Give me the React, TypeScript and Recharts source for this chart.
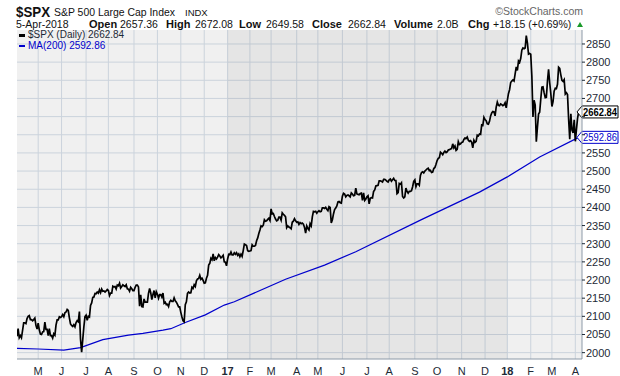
import React from 'react';
import {
  ComposedChart,
  Line,
  XAxis,
  YAxis,
  CartesianGrid,
  ReferenceArea,
  ReferenceLine,
  Legend,
} from 'recharts';

// ---------- DATA ----------
const prices2016: [string, number][] = [
  ['2016-04-05', 2045], ['2016-04-06', 2066], ['2016-04-07', 2041], ['2016-04-08', 2047], ['2016-04-11', 2041],
  ['2016-04-12', 2061], ['2016-04-13', 2082], ['2016-04-14', 2082], ['2016-04-15', 2080], ['2016-04-18', 2094],
  ['2016-04-19', 2100], ['2016-04-20', 2102], ['2016-04-21', 2091], ['2016-04-22', 2091], ['2016-04-25', 2088],
  ['2016-04-26', 2091], ['2016-04-27', 2095], ['2016-04-28', 2075], ['2016-04-29', 2065], ['2016-05-02', 2081],
  ['2016-05-03', 2063], ['2016-05-04', 2051], ['2016-05-05', 2050], ['2016-05-06', 2057], ['2016-05-09', 2058],
  ['2016-05-10', 2084], ['2016-05-11', 2064], ['2016-05-12', 2064], ['2016-05-13', 2047], ['2016-05-16', 2066],
  ['2016-05-17', 2047], ['2016-05-18', 2047], ['2016-05-19', 2040], ['2016-05-20', 2052], ['2016-05-23', 2048],
  ['2016-05-24', 2076], ['2016-05-25', 2090], ['2016-05-26', 2090], ['2016-05-27', 2099], ['2016-05-31', 2097],
  ['2016-06-01', 2099], ['2016-06-02', 2105], ['2016-06-03', 2099], ['2016-06-06', 2110], ['2016-06-07', 2112],
  ['2016-06-08', 2119], ['2016-06-09', 2116], ['2016-06-10', 2096], ['2016-06-13', 2079], ['2016-06-14', 2075],
  ['2016-06-15', 2072], ['2016-06-16', 2077], ['2016-06-17', 2071], ['2016-06-20', 2083], ['2016-06-21', 2088],
  ['2016-06-22', 2085], ['2016-06-23', 2113], ['2016-06-24', 2037], ['2016-06-27', 2001], ['2016-06-28', 2036],
  ['2016-06-29', 2071], ['2016-06-30', 2099], ['2016-07-01', 2103], ['2016-07-05', 2089], ['2016-07-06', 2100],
  ['2016-07-07', 2098], ['2016-07-08', 2130], ['2016-07-11', 2137], ['2016-07-12', 2152], ['2016-07-13', 2153],
  ['2016-07-14', 2163], ['2016-07-15', 2162], ['2016-07-18', 2167], ['2016-07-19', 2164], ['2016-07-20', 2173],
  ['2016-07-21', 2165], ['2016-07-22', 2175], ['2016-07-25', 2169], ['2016-07-26', 2170], ['2016-07-27', 2167],
  ['2016-07-28', 2170], ['2016-07-29', 2174], ['2016-08-01', 2171], ['2016-08-02', 2157], ['2016-08-03', 2164],
  ['2016-08-04', 2164], ['2016-08-05', 2183], ['2016-08-08', 2181], ['2016-08-09', 2182], ['2016-08-10', 2175],
  ['2016-08-11', 2186], ['2016-08-12', 2184], ['2016-08-15', 2191], ['2016-08-16', 2178], ['2016-08-17', 2182],
  ['2016-08-18', 2187], ['2016-08-19', 2184], ['2016-08-22', 2182], ['2016-08-23', 2187], ['2016-08-24', 2176],
  ['2016-08-25', 2175], ['2016-08-26', 2169], ['2016-08-29', 2180], ['2016-08-30', 2176], ['2016-08-31', 2171],
  ['2016-09-01', 2171], ['2016-09-02', 2180], ['2016-09-06', 2186], ['2016-09-07', 2186], ['2016-09-08', 2181],
  ['2016-09-09', 2128], ['2016-09-12', 2159], ['2016-09-13', 2127], ['2016-09-14', 2126], ['2016-09-15', 2148],
  ['2016-09-16', 2139], ['2016-09-19', 2139], ['2016-09-20', 2139], ['2016-09-21', 2163], ['2016-09-22', 2177],
  ['2016-09-23', 2165], ['2016-09-26', 2146], ['2016-09-27', 2160], ['2016-09-28', 2171], ['2016-09-29', 2151],
  ['2016-09-30', 2168], ['2016-10-03', 2161], ['2016-10-04', 2150], ['2016-10-05', 2160], ['2016-10-06', 2160],
  ['2016-10-07', 2153], ['2016-10-10', 2164], ['2016-10-11', 2136], ['2016-10-12', 2139], ['2016-10-13', 2132],
  ['2016-10-14', 2133], ['2016-10-17', 2127], ['2016-10-18', 2140], ['2016-10-19', 2144], ['2016-10-20', 2141],
  ['2016-10-21', 2141], ['2016-10-24', 2151], ['2016-10-25', 2143], ['2016-10-26', 2139], ['2016-10-27', 2133],
  ['2016-10-28', 2126], ['2016-10-31', 2126], ['2016-11-01', 2111], ['2016-11-02', 2098], ['2016-11-03', 2088],
  ['2016-11-04', 2085], ['2016-11-07', 2132], ['2016-11-08', 2140], ['2016-11-09', 2163], ['2016-11-10', 2167],
  ['2016-11-11', 2164], ['2016-11-14', 2165], ['2016-11-15', 2180], ['2016-11-16', 2177], ['2016-11-17', 2187],
  ['2016-11-18', 2182], ['2016-11-21', 2198], ['2016-11-22', 2203], ['2016-11-23', 2204], ['2016-11-25', 2213],
  ['2016-11-28', 2202], ['2016-11-29', 2205], ['2016-11-30', 2199], ['2016-12-01', 2191], ['2016-12-02', 2192],
  ['2016-12-05', 2205], ['2016-12-06', 2213], ['2016-12-07', 2241], ['2016-12-08', 2246], ['2016-12-09', 2260],
  ['2016-12-12', 2256], ['2016-12-13', 2272], ['2016-12-14', 2253], ['2016-12-15', 2262], ['2016-12-16', 2258],
  ['2016-12-19', 2263], ['2016-12-20', 2270], ['2016-12-21', 2266], ['2016-12-22', 2261], ['2016-12-23', 2264],
  ['2016-12-27', 2268], ['2016-12-28', 2250], ['2016-12-29', 2249], ['2016-12-30', 2239],
];

const prices2017: [string, number][] = [
  ['2017-01-03', 2258], ['2017-01-04', 2271], ['2017-01-05', 2270], ['2017-01-06', 2277], ['2017-01-09', 2269],
  ['2017-01-10', 2269], ['2017-01-11', 2275], ['2017-01-12', 2271], ['2017-01-13', 2275], ['2017-01-17', 2268],
  ['2017-01-18', 2272], ['2017-01-19', 2264], ['2017-01-20', 2271], ['2017-01-23', 2265], ['2017-01-24', 2281],
  ['2017-01-25', 2299], ['2017-01-26', 2297], ['2017-01-27', 2295], ['2017-01-30', 2281], ['2017-01-31', 2279],
  ['2017-02-01', 2280], ['2017-02-02', 2281], ['2017-02-03', 2297], ['2017-02-06', 2293], ['2017-02-07', 2293],
  ['2017-02-08', 2295], ['2017-02-09', 2308], ['2017-02-10', 2316], ['2017-02-13', 2328], ['2017-02-14', 2338],
  ['2017-02-15', 2349], ['2017-02-16', 2347], ['2017-02-17', 2351], ['2017-02-21', 2366], ['2017-02-22', 2362],
  ['2017-02-23', 2363], ['2017-02-24', 2367], ['2017-02-27', 2370], ['2017-02-28', 2364], ['2017-03-01', 2396],
  ['2017-03-02', 2382], ['2017-03-03', 2383], ['2017-03-06', 2375], ['2017-03-07', 2368], ['2017-03-08', 2363],
  ['2017-03-09', 2365], ['2017-03-10', 2373], ['2017-03-13', 2373], ['2017-03-14', 2365], ['2017-03-15', 2385],
  ['2017-03-16', 2381], ['2017-03-17', 2378], ['2017-03-20', 2374], ['2017-03-21', 2344], ['2017-03-22', 2349],
  ['2017-03-23', 2346], ['2017-03-24', 2344], ['2017-03-27', 2341], ['2017-03-28', 2359], ['2017-03-29', 2362],
  ['2017-03-30', 2369], ['2017-03-31', 2363], ['2017-04-03', 2359], ['2017-04-04', 2360], ['2017-04-05', 2353],
  ['2017-04-06', 2358], ['2017-04-07', 2355], ['2017-04-10', 2357], ['2017-04-11', 2354], ['2017-04-12', 2345],
  ['2017-04-13', 2329], ['2017-04-17', 2349], ['2017-04-18', 2342], ['2017-04-19', 2338], ['2017-04-20', 2355],
  ['2017-04-21', 2349], ['2017-04-24', 2374], ['2017-04-25', 2389], ['2017-04-26', 2388], ['2017-04-27', 2389],
  ['2017-04-28', 2384], ['2017-05-01', 2388], ['2017-05-02', 2391], ['2017-05-03', 2388], ['2017-05-04', 2389],
  ['2017-05-05', 2399], ['2017-05-08', 2399], ['2017-05-09', 2397], ['2017-05-10', 2400], ['2017-05-11', 2395],
  ['2017-05-12', 2391], ['2017-05-15', 2402], ['2017-05-16', 2400], ['2017-05-17', 2357], ['2017-05-18', 2366],
  ['2017-05-19', 2382], ['2017-05-22', 2394], ['2017-05-23', 2398], ['2017-05-24', 2404], ['2017-05-25', 2415],
  ['2017-05-26', 2416], ['2017-05-30', 2413], ['2017-05-31', 2412], ['2017-06-01', 2431], ['2017-06-02', 2439],
  ['2017-06-05', 2437], ['2017-06-06', 2429], ['2017-06-07', 2433], ['2017-06-08', 2434], ['2017-06-09', 2432],
  ['2017-06-12', 2429], ['2017-06-13', 2440], ['2017-06-14', 2437], ['2017-06-15', 2432], ['2017-06-16', 2433],
  ['2017-06-19', 2453], ['2017-06-20', 2437], ['2017-06-21', 2436], ['2017-06-22', 2435], ['2017-06-23', 2438],
  ['2017-06-26', 2439], ['2017-06-27', 2419], ['2017-06-28', 2440], ['2017-06-29', 2419], ['2017-06-30', 2423],
  ['2017-07-03', 2429], ['2017-07-05', 2432], ['2017-07-06', 2410], ['2017-07-07', 2425], ['2017-07-10', 2427],
  ['2017-07-11', 2426], ['2017-07-12', 2444], ['2017-07-13', 2448], ['2017-07-14', 2459], ['2017-07-17', 2460],
  ['2017-07-18', 2461], ['2017-07-19', 2473], ['2017-07-20', 2473], ['2017-07-21', 2472], ['2017-07-24', 2470],
  ['2017-07-25', 2477], ['2017-07-26', 2477], ['2017-07-27', 2475], ['2017-07-28', 2472], ['2017-07-31', 2470],
  ['2017-08-01', 2476], ['2017-08-02', 2478], ['2017-08-03', 2472], ['2017-08-04', 2476], ['2017-08-07', 2480],
  ['2017-08-08', 2474], ['2017-08-09', 2474], ['2017-08-10', 2438], ['2017-08-11', 2441], ['2017-08-14', 2466],
  ['2017-08-15', 2464], ['2017-08-16', 2468], ['2017-08-17', 2430], ['2017-08-18', 2426], ['2017-08-21', 2429],
  ['2017-08-22', 2453], ['2017-08-23', 2444], ['2017-08-24', 2439], ['2017-08-25', 2444], ['2017-08-28', 2444],
  ['2017-08-29', 2446], ['2017-08-30', 2457], ['2017-08-31', 2472], ['2017-09-01', 2476], ['2017-09-05', 2457],
  ['2017-09-06', 2465], ['2017-09-07', 2465], ['2017-09-08', 2461], ['2017-09-11', 2488], ['2017-09-12', 2496],
  ['2017-09-13', 2498], ['2017-09-14', 2495], ['2017-09-15', 2500], ['2017-09-18', 2503], ['2017-09-19', 2506],
  ['2017-09-20', 2508], ['2017-09-21', 2501], ['2017-09-22', 2502], ['2017-09-25', 2496], ['2017-09-26', 2497],
  ['2017-09-27', 2507], ['2017-09-28', 2510], ['2017-09-29', 2519], ['2017-10-02', 2529], ['2017-10-03', 2535],
  ['2017-10-04', 2537], ['2017-10-05', 2552], ['2017-10-06', 2549], ['2017-10-09', 2545], ['2017-10-10', 2551],
  ['2017-10-11', 2555], ['2017-10-12', 2551], ['2017-10-13', 2553], ['2017-10-16', 2558], ['2017-10-17', 2559],
  ['2017-10-18', 2561], ['2017-10-19', 2562], ['2017-10-20', 2575], ['2017-10-23', 2564], ['2017-10-24', 2569],
  ['2017-10-25', 2557], ['2017-10-26', 2560], ['2017-10-27', 2581], ['2017-10-30', 2573], ['2017-10-31', 2575],
  ['2017-11-01', 2579], ['2017-11-02', 2580], ['2017-11-03', 2587], ['2017-11-06', 2591], ['2017-11-07', 2590],
  ['2017-11-08', 2594], ['2017-11-09', 2585], ['2017-11-10', 2582], ['2017-11-13', 2584], ['2017-11-14', 2579],
  ['2017-11-15', 2564], ['2017-11-16', 2585], ['2017-11-17', 2579], ['2017-11-20', 2582], ['2017-11-21', 2599],
  ['2017-11-22', 2597], ['2017-11-24', 2602], ['2017-11-27', 2601], ['2017-11-28', 2627], ['2017-11-29', 2626],
  ['2017-11-30', 2648], ['2017-12-01', 2642], ['2017-12-04', 2639], ['2017-12-05', 2630], ['2017-12-06', 2629],
  ['2017-12-07', 2637], ['2017-12-08', 2652], ['2017-12-11', 2660], ['2017-12-12', 2664], ['2017-12-13', 2663],
  ['2017-12-14', 2652], ['2017-12-15', 2676], ['2017-12-18', 2690], ['2017-12-19', 2681], ['2017-12-20', 2680],
  ['2017-12-21', 2685], ['2017-12-22', 2683], ['2017-12-26', 2680], ['2017-12-27', 2682], ['2017-12-28', 2688],
  ['2017-12-29', 2674],
];

const prices2018: [string, number][] = [
  ['2018-01-02', 2695], ['2018-01-03', 2713], ['2018-01-04', 2724], ['2018-01-05', 2744], ['2018-01-08', 2748],
  ['2018-01-09', 2751], ['2018-01-10', 2748], ['2018-01-11', 2768], ['2018-01-12', 2787], ['2018-01-16', 2777],
  ['2018-01-17', 2803], ['2018-01-18', 2799], ['2018-01-19', 2810], ['2018-01-22', 2833], ['2018-01-23', 2839],
  ['2018-01-24', 2837], ['2018-01-25', 2839], ['2018-01-26', 2873], ['2018-01-29', 2853], ['2018-01-30', 2822],
  ['2018-01-31', 2824], ['2018-02-01', 2822], ['2018-02-02', 2762], ['2018-02-05', 2649], ['2018-02-06', 2695],
  ['2018-02-07', 2682], ['2018-02-08', 2581], ['2018-02-09', 2620], ['2018-02-12', 2657], ['2018-02-13', 2662],
  ['2018-02-14', 2698], ['2018-02-15', 2731], ['2018-02-16', 2732], ['2018-02-20', 2716], ['2018-02-21', 2702],
  ['2018-02-22', 2703], ['2018-02-23', 2747], ['2018-02-26', 2780], ['2018-02-27', 2744], ['2018-02-28', 2714],
  ['2018-03-01', 2678], ['2018-03-02', 2691], ['2018-03-05', 2720], ['2018-03-06', 2728], ['2018-03-07', 2727],
  ['2018-03-08', 2739], ['2018-03-09', 2786], ['2018-03-12', 2783], ['2018-03-13', 2765], ['2018-03-14', 2750],
  ['2018-03-15', 2747], ['2018-03-16', 2752], ['2018-03-19', 2712], ['2018-03-20', 2716], ['2018-03-21', 2711],
  ['2018-03-22', 2643], ['2018-03-23', 2588], ['2018-03-26', 2658], ['2018-03-27', 2613], ['2018-03-28', 2605],
  ['2018-03-29', 2641], ['2018-04-02', 2582], ['2018-04-03', 2614], ['2018-04-04', 2645], ['2018-04-05', 2662.84],
];

const ma200: [string, number][] = [
  ['2016-04-05', 2012], ['2016-05-01', 2010], ['2016-06-03', 2007], ['2016-06-24', 2014], ['2016-07-23', 2036],
  ['2016-08-25', 2048], ['2016-09-14', 2053], ['2016-10-08', 2062], ['2016-10-19', 2066], ['2016-11-06', 2083],
  ['2016-12-02', 2104], ['2016-12-28', 2131], ['2017-01-11', 2140], ['2017-03-20', 2202], ['2017-05-09', 2241],
  ['2017-06-18', 2278], ['2017-09-09', 2365], ['2017-11-23', 2442], ['2018-01-02', 2484], ['2018-02-13', 2539],
  ['2018-04-05', 2592.86],
];

const yTicks = [2000, 2050, 2100, 2150, 2200, 2250, 2300, 2350, 2400, 2450, 2500, 2550, 2600, 2650, 2700, 2750, 2800, 2850];
const monthTicks = [
  '2016-05-01', '2016-06-01', '2016-07-01', '2016-08-01', '2016-09-01', '2016-10-01', '2016-11-01', '2016-12-01',
  '2017-01-01', '2017-02-01', '2017-03-01', '2017-04-01', '2017-05-01', '2017-06-01', '2017-07-01', '2017-08-01',
  '2017-09-01', '2017-10-01', '2017-11-01', '2017-12-01', '2018-01-01', '2018-02-01', '2018-03-01', '2018-04-01',
];
const monthLetters = ['J', 'F', 'M', 'A', 'M', 'J', 'J', 'A', 'S', 'O', 'N', 'D'];
const shadedYear = ['2017-01-01', '2018-01-01'];
const yDomain: [number, number] = [1982.5, 2888.5];
const lastClose = 2662.84;
const lastMA = 2592.86;

const headerValues = {
  date: '5-Apr-2018', open: '2657.36', high: '2672.08', low: '2649.58', close: '2662.84', volume: '2.0B', chg: '+18.15 (+0.69%)',
};

// ---------- HELPERS (trading-day x positions, as StockCharts spaces them) ----------
const allPrices = [...prices2016, ...prices2017, ...prices2018];
const tradeTimes = allPrices.map(([d]) => Date.parse(d));
const dateToX = (d: string) => {
  const t = Date.parse(d);
  return tradeTimes.filter((tt) => tt < t).length;
};
const priceRows = allPrices.map(([, v], i) => ({ x: i, v }));
const maRows = ma200.map(([d, v]) => ({ x: dateToX(d), v }));
const xTicks = monthTicks.map(dateToX);
const tickLabel: Record<number, { text: string; bold: boolean }> = {};
monthTicks.forEach((d, i) => {
  const m = Number(d.slice(5, 7)) - 1;
  tickLabel[xTicks[i]] = m === 0 ? { text: d.slice(2, 4), bold: true } : { text: monthLetters[m], bold: false };
});
const xDomain: [number, number] = [0, priceRows.length - 1 + 3];

const FONT = '"Liberation Sans", Arial, sans-serif';
const GRID = '#cbd3dc';
const BORDER = '#8d9aa8';
const TEXT = '#1e2a36';
const BLUE = '#0000cc';

const XTick = (props: any) => {
  const { x, y, payload } = props;
  const lab = tickLabel[payload.value] || { text: '', bold: false };
  return (
    <text x={x} y={y} dy={8} textAnchor="middle" fontSize={11} fontFamily={FONT}
      fontWeight={lab.bold ? 'bold' : 'normal'} fill={TEXT}>
      {lab.text}
    </text>
  );
};

// tick labels sitting under the last-value tags are covered by the tags in the original
const YTick = (props: any) => {
  const { x, y, payload } = props;
  const v = payload.value;
  const covered = Math.abs(v - lastClose) < 15 || Math.abs(v - lastMA) < 15;
  if (covered) return null;
  return (
    <text x={x} y={y} dy="0.36em" textAnchor="start" fontSize={11} fontFamily={FONT} fill={TEXT}>
      {v}
    </text>
  );
};

const PriceTag = (props: any) => {
  const { viewBox, text, color, bold } = props;
  if (!viewBox) return null;
  const x0 = viewBox.x + viewBox.width;
  const y = viewBox.y;
  const h = 12;
  const pts = `${x0 - 5},${y} ${x0},${y - h / 2} ${x0 + 36},${y - h / 2} ${x0 + 36},${y + h / 2} ${x0},${y + h / 2}`;
  return (
    <g>
      <polygon points={pts} fill="#ffffff" stroke={color} strokeWidth={1} />
      <text x={x0 + 1} y={y} dy="0.36em" fontSize={10} fontFamily={FONT} fontWeight={bold ? 'bold' : 'normal'}
        fill={color} textLength={34} lengthAdjust="spacingAndGlyphs">
        {text}
      </text>
    </g>
  );
};

const LegendBox = () => (
  <div style={{ fontFamily: FONT, fontSize: 10, lineHeight: '10.5px', color: TEXT, whiteSpace: 'nowrap' }}>
    <div style={{ display: 'flex', alignItems: 'center' }}>
      <span style={{ display: 'inline-block', width: 6, height: 2.5, background: '#000', marginRight: 3 }} />
      <span>$SPX (Daily) {lastClose.toFixed(2)}</span>
    </div>
    <div style={{ display: 'flex', alignItems: 'center', color: BLUE }}>
      <span style={{ display: 'inline-block', width: 6, height: 2.5, background: BLUE, marginRight: 3 }} />
      <span>MA(200) {lastMA.toFixed(2)}</span>
    </div>
  </div>
);

const Header = () => (
  <svg width={620} height={30} style={{ position: 'absolute', left: 0, top: 0 }} fontFamily={FONT}>
    <text x={16} y={16.5} fontSize={15} fontWeight="bold" fill="#111" textLength={34} lengthAdjust="spacingAndGlyphs">$SPX</text>
    <text x={54} y={16} fontSize={11} fill="#111" textLength={121} lengthAdjust="spacingAndGlyphs">S&amp;P 500 Large Cap Index</text>
    <text x={185} y={16} fontSize={9.5} fill="#111">INDX</text>
    <text x={583} y={15} fontSize={10.5} fill="#666" textAnchor="end">©StockCharts.com</text>
    <text x={16} y={28} fontSize={10.5} fill="#111">{headerValues.date}</text>
    <text x={89} y={28} fontSize={11} fontWeight="bold" fill="#111">Open</text>
    <text x={120} y={28} fontSize={10.5} fill="#111">{headerValues.open}</text>
    <text x={166} y={28} fontSize={11} fontWeight="bold" fill="#111">High</text>
    <text x={195} y={28} fontSize={10.5} fill="#111">{headerValues.high}</text>
    <text x={239} y={28} fontSize={11} fontWeight="bold" fill="#111">Low</text>
    <text x={266} y={28} fontSize={10.5} fill="#111">{headerValues.low}</text>
    <text x={312} y={28} fontSize={11} fontWeight="bold" fill="#111">Close</text>
    <text x={348} y={28} fontSize={10.5} fill="#111">{headerValues.close}</text>
    <text x={394} y={28} fontSize={11} fontWeight="bold" fill="#111">Volume</text>
    <text x={437} y={28} fontSize={10.5} fill="#111">{headerValues.volume}</text>
    <text x={468} y={28} fontSize={11} fontWeight="bold" fill="#111">Chg</text>
    <text x={493} y={28} fontSize={10.5} fill="#111">{headerValues.chg}</text>
    <polygon points="577,27 583,27 580,22" fill="#1a9a2a" />
  </svg>
);

export default function App() {
  return (
    <div style={{ position: 'absolute', left: 0, top: 0, width: 620, height: 376, background: '#fff' }}>
      <Header />
      <ComposedChart
        width={620}
        height={376}
        margin={{ top: 30, right: 0, bottom: 0, left: 17 }}
        style={{ fontFamily: FONT }}
      >
        <CartesianGrid
          stroke={GRID}
          strokeWidth={1}
          fill="#f0f0f0"
          fillOpacity={1}
          horizontalValues={yTicks}
          verticalValues={xTicks}
        />
        <ReferenceArea
          x1={dateToX(shadedYear[0])}
          x2={dateToX(shadedYear[1])}
          fill="#000"
          fillOpacity={0.045}
          stroke="none"
          ifOverflow="hidden"
        />
        <XAxis
          dataKey="x"
          type="number"
          domain={xDomain}
          allowDataOverflow
          ticks={xTicks}
          interval={0}
          height={17}
          axisLine={{ stroke: BORDER }}
          tickLine={false}
          tick={<XTick />}
        />
        <XAxis xAxisId="top" orientation="top" type="number" domain={xDomain} height={0} tick={false}
          tickLine={false} axisLine={{ stroke: BORDER }} />
        <YAxis
          orientation="right"
          type="number"
          domain={yDomain}
          allowDataOverflow
          ticks={yTicks}
          interval={0}
          width={38}
          axisLine={{ stroke: BORDER }}
          tickLine={{ stroke: TEXT }}
          tickSize={3}
          tickMargin={1}
          tick={<YTick />}
        />
        <YAxis yAxisId="left" orientation="left" type="number" domain={yDomain} width={0} tick={false}
          tickLine={false} axisLine={{ stroke: BORDER }} />
        <Line
          data={maRows}
          dataKey="v"
          type="linear"
          stroke={BLUE}
          strokeWidth={1.2}
          dot={false}
          isAnimationActive={false}
        />
        <Line
          data={priceRows}
          dataKey="v"
          type="linear"
          stroke="#000"
          strokeWidth={1.7}
          dot={false}
          isAnimationActive={false}
        />
        <ReferenceLine y={lastClose} stroke="none" ifOverflow="visible"
          label={<PriceTag text={lastClose.toFixed(2)} color="#000" bold />} />
        <ReferenceLine y={lastMA} stroke="none" ifOverflow="visible"
          label={<PriceTag text={lastMA.toFixed(2)} color={BLUE} bold={false} />} />
        <Legend
          layout="horizontal"
          verticalAlign="middle"
          align="center"
          content={<LegendBox />}
          wrapperStyle={{ position: 'absolute', top: 30, left: 19, width: 'auto', height: 'auto' }}
        />
      </ComposedChart>
    </div>
  );
}
